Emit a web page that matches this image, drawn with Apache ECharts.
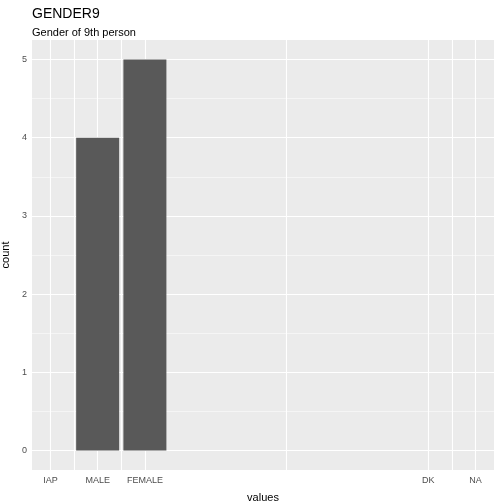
<!DOCTYPE html>
<html><head><meta charset="utf-8">
<script src="https://cdn.jsdelivr.net/npm/echarts@6/dist/echarts.min.js"></script>
<style>html,body{margin:0;background:#fff}#c{width:504px;height:504px}</style>
</head><body><div id="c"></div>
<script>
const categories = ['IAP', 'MALE', 'FEMALE', 'DK', 'NA'];
const positions = [0, 1, 2, 8, 9];
const counts = [0, 4, 5, 0, 0];
const yTicks = [0, 1, 2, 3, 4, 5];

const chart = echarts.init(document.getElementById('c'));
const xGrid = [0, 0.5, 1, 1.5, 2, 5, 8, 8.5, 9];
const yMinor = [0.5, 1.5, 2.5, 3.5, 4.5];
const lines = [];
xGrid.forEach(v => lines.push({xAxis: v, lineStyle: {width: 1.1}}));
yTicks.forEach(v => lines.push({yAxis: v, lineStyle: {width: 1.1}}));
yMinor.forEach(v => lines.push({yAxis: v, lineStyle: {width: 0.5}}));

chart.setOption({
    animation: false,
    textStyle: {fontFamily: 'Liberation Sans, Arial'},
    title: {
        text: 'GENDER9', subtext: 'Gender of 9th person',
        left: 27, top: 2, itemGap: 6,
        textStyle: {fontSize: 14, fontWeight: 'normal', color: '#000'},
        subtextStyle: {fontSize: 11, color: '#000'}
    },
    grid: {left: 32, right: 10, top: 40, bottom: 34, backgroundColor: '#ebebeb', show: true, borderWidth: 0,
        containLabel: false, outerBoundsMode: 'none'},
    xAxis: {
        type: 'value', min: -0.39, max: 9.39,
        name: 'values', nameLocation: 'middle', nameGap: 22,
        nameTextStyle: {fontSize: 11, color: '#000'},
        axisLine: {show: false}, splitLine: {show: false},
        axisTick: {show: true, customValues: positions, length: 3, lineStyle: {color: '#333'}},
        axisLabel: {customValues: positions, fontSize: 9, color: '#4d4d4d', margin: 6,
            formatter: v => categories[positions.indexOf(v)] || ''}
    },
    yAxis: {
        type: 'value', min: -0.25, max: 5.25,
        name: 'count', nameLocation: 'middle', nameGap: 20,
        nameTextStyle: {fontSize: 11, color: '#000'},
        axisLine: {show: false}, splitLine: {show: false},
        axisTick: {show: true, customValues: yTicks, length: 3, lineStyle: {color: '#333'}},
        axisLabel: {customValues: yTicks, fontSize: 9, color: '#4d4d4d', margin: 5}
    },
    series: [{
        type: 'bar', barWidth: 43, z: 3,
        itemStyle: {color: '#595959'},
        data: positions.map((p, i) => [p, counts[i]]),
        markLine: {silent: true, symbol: 'none', label: {show: false}, z: 1,
            lineStyle: {color: '#fff', type: 'solid'}, data: lines}
    }]
});
</script></body></html>
